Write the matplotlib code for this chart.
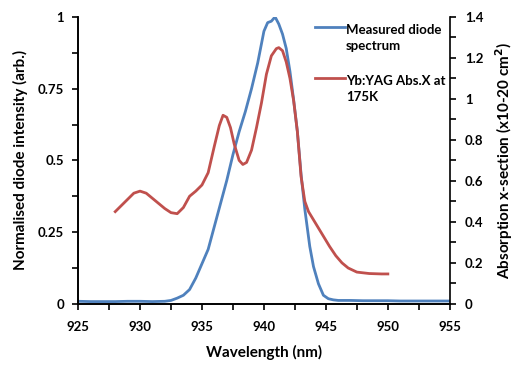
import matplotlib
matplotlib.use("Agg")
import numpy as np
import matplotlib.pyplot as plt
from matplotlib.ticker import MultipleLocator, FuncFormatter
from matplotlib.legend_handler import HandlerLine2D

plt.rcParams['font.family'] = ['Lato', 'DejaVu Sans']
plt.rcParams['font.weight'] = 'bold'

# Measured diode spectrum (left axis, normalised)
diode_wl = [925, 926, 927, 928, 929, 930, 931, 932, 932.5, 933, 933.5, 934, 934.5, 935,
            935.5, 936, 936.5, 937, 937.5, 938, 938.5, 939, 939.5, 940, 940.3, 940.6,
            940.9, 941.2, 941.5, 941.8, 942.1, 942.4, 942.7, 943, 943.3, 943.7, 944,
            944.4, 944.8, 945.2, 945.6, 946, 947, 948, 949, 950, 951, 952, 953, 954, 955]
diode_int = [0.009, 0.008, 0.008, 0.008, 0.009, 0.009, 0.008, 0.009, 0.012, 0.02, 0.03,
             0.05, 0.09, 0.14, 0.19, 0.27, 0.35, 0.43, 0.52, 0.60, 0.67, 0.75, 0.84,
             0.95, 0.98, 0.985, 1.0, 0.975, 0.94, 0.89, 0.81, 0.71, 0.60, 0.45, 0.33,
             0.20, 0.13, 0.07, 0.03, 0.018, 0.014, 0.012, 0.012, 0.011, 0.011, 0.011,
             0.010, 0.010, 0.010, 0.010, 0.010]

# Yb:YAG absorption cross-section at 175K (right axis, x1e-20 cm^2)
abs_wl = [928, 928.5, 929, 929.5, 930, 930.5, 931, 931.5, 932, 932.5, 933, 933.5, 934,
          934.5, 935, 935.5, 936, 936.4, 936.7, 937, 937.3, 937.6, 938, 938.3, 938.6,
          939, 939.4, 939.8, 940.2, 940.6, 941, 941.2, 941.5, 941.8, 942.1, 942.4,
          942.7, 943, 943.3, 943.6, 944, 944.4, 944.8, 945.3, 945.8, 946.3, 946.8,
          947.5, 948.5, 949.5, 950]
abs_xs = [0.45, 0.48, 0.51, 0.54, 0.55, 0.54, 0.515, 0.49, 0.465, 0.445, 0.44, 0.47,
          0.525, 0.55, 0.58, 0.64, 0.77, 0.87, 0.92, 0.91, 0.86, 0.78, 0.70, 0.68, 0.69,
          0.75, 0.86, 0.98, 1.12, 1.21, 1.245, 1.25, 1.235, 1.18, 1.10, 0.99, 0.84,
          0.62, 0.50, 0.45, 0.41, 0.37, 0.33, 0.28, 0.235, 0.20, 0.175, 0.155, 0.148,
          0.146, 0.146]

blue = '#4F81BD'
red = '#C0504D'


class UpHandler(HandlerLine2D):
    def __init__(self, dy, **kw):
        super().__init__(**kw)
        self.dy = dy

    def create_artists(self, legend, orig_handle, xdescent, ydescent, width,
                       height, fontsize, trans):
        arts = super().create_artists(legend, orig_handle, xdescent, ydescent,
                                      width, height, fontsize, trans)
        for a in arts:
            a.set_ydata(np.asarray(a.get_ydata(), dtype=float) + self.dy)
        return arts


fig = plt.figure(figsize=(5.17, 3.67), dpi=100)
ax = fig.add_axes([0.151, 0.172, 0.719, 0.782])
ax2 = ax.twinx()

l1, = ax.plot(diode_wl, diode_int, color=blue, lw=2, label='Measured diode\nspectrum')
l2, = ax2.plot(abs_wl, abs_xs, color=red, lw=2, label='Yb:YAG Abs.X at\n175K')

ax.set_xlim(925, 955)
ax.set_ylim(0, 1)
ax2.set_ylim(0, 1.4)

ax.xaxis.set_major_locator(MultipleLocator(5))
ax.xaxis.set_minor_locator(MultipleLocator(2.5))
ax.yaxis.set_major_locator(MultipleLocator(0.25))
ax.yaxis.set_minor_locator(MultipleLocator(0.125))
ax2.yaxis.set_major_locator(MultipleLocator(0.2))
ax2.yaxis.set_minor_locator(MultipleLocator(0.1))

fmt = FuncFormatter(lambda v, p: ('%g' % round(v, 3)))
ax.yaxis.set_major_formatter(fmt)
ax2.yaxis.set_major_formatter(fmt)

for a in (ax, ax2):
    a.spines['top'].set_visible(False)
    for s in a.spines.values():
        s.set_linewidth(1.2)
    a.tick_params(which='both', direction='out', length=4, width=1.2, labelsize=9.5)

ax.tick_params(axis='y', pad=6)
ax2.tick_params(axis='y', pad=7)
ax.tick_params(axis='x', pad=8)
ax.spines['right'].set_visible(False)

ax.set_xlabel('Wavelength (nm)', fontsize=11, fontweight='bold', labelpad=9)
ax.set_ylabel('Normalised diode intensity (arb.)', fontsize=11, fontweight='bold', labelpad=7)
ax2.set_ylabel('Absorption x-section (x10-20 cm$^{\\mathbf{2}}$)', fontsize=11,
               fontweight='bold', labelpad=7)

leg = ax2.legend(handles=[l1, l2], loc='upper left', bbox_to_anchor=(0.605, 1.018),
                 frameon=False, fontsize=9.5, handlelength=2.3, handletextpad=0.05,
                 labelspacing=1.75,
                 handler_map={l1: UpHandler(8), l2: UpHandler(8)})
for t in leg.get_texts():
    t.set_linespacing(1.4)

fig.savefig('out.png', dpi=100)
